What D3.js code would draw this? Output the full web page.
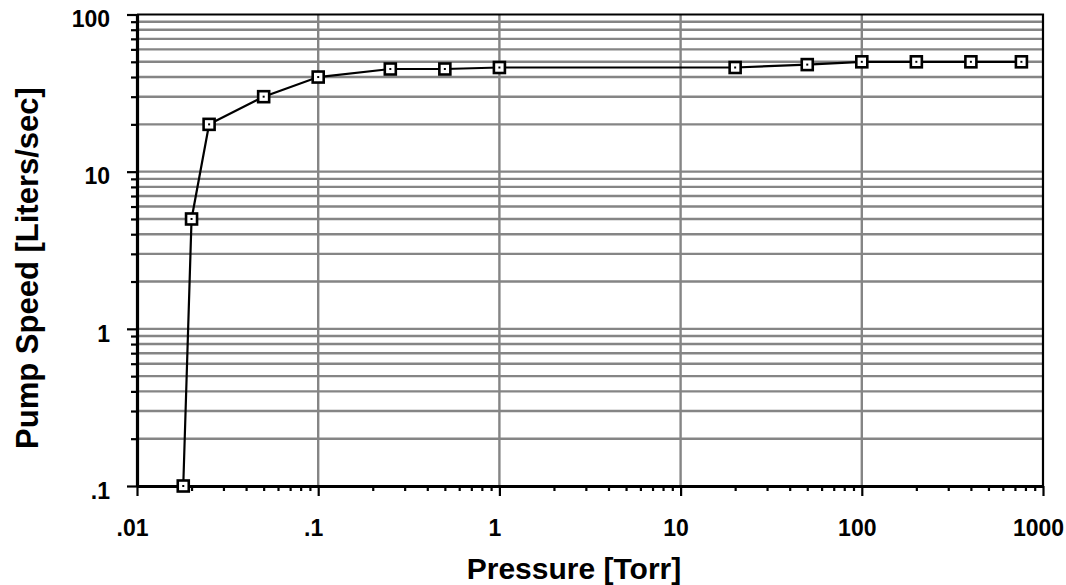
<!DOCTYPE html>
<html>
<head>
<meta charset="utf-8">
<script src="https://cdn.jsdelivr.net/npm/d3@7"></script>
<style>
  html, body { margin: 0; padding: 0; background: #fff; }
  svg { display: block; }
  text { font-family: "Liberation Sans", Arial, Helvetica, sans-serif; font-weight: bold; fill: #000; }
</style>
</head>
<body>
<svg id="chart" width="1066" height="585"></svg>
<script>
// ---- data ----
const pressureTorr = [0.018, 0.02, 0.025, 0.05, 0.1, 0.25, 0.5, 1, 20, 50, 100, 200, 400, 760];
const pumpSpeed    = [0.1,   5,    20,    30,   40,  45,   45,  46, 46, 48, 50,  50,  50,  50];
const xMajorTicks = [0.01, 0.1, 1, 10, 100, 1000];
const xTickLabels = [".01", ".1", "1", "10", "100", "1000"];
const yMajorTicks = [0.1, 1, 10, 100];
const yTickLabels = [".1", "1", "10", "100"];
const xTitle = "Pressure [Torr]";
const yTitle = "Pump Speed [Liters/sec]";

(function () {
const svg = d3.select("#chart");
const pl = 137, pr = 1043, pt = 14.5, pb = 486;

const x = d3.scaleLog().domain([0.01, 1000]).range([pl, pr]);
const y = d3.scaleLog().domain([0.1, 100]).range([pb, pt]);

const allY = y.ticks();
const allX = x.ticks();
const isMajor = (arr, v) => arr.some(m => Math.abs(m - v) / m < 1e-9);
const yMinor = allY.filter(v => !isMajor(yMajorTicks, v));
const xMinor = allX.filter(v => !isMajor(xMajorTicks, v));

// grid
const grid = svg.append("g").attr("stroke", "#858585").attr("stroke-width", 2.4);
grid.selectAll("line.h").data(allY.filter(v => v > 0.1 && v < 100)).join("line")
  .attr("class", "h")
  .attr("x1", pl).attr("x2", pr)
  .attr("y1", d => y(d)).attr("y2", d => y(d));
grid.selectAll("line.v").data(xMajorTicks.slice(1, -1)).join("line")
  .attr("class", "v")
  .attr("y1", pt).attr("y2", pb)
  .attr("x1", d => x(d)).attr("x2", d => x(d));

// frame (top & right)
svg.append("path")
  .attr("d", `M${pl},${pt}H${pr}V${pb}`)
  .attr("fill", "none").attr("stroke", "#000").attr("stroke-width", 2.2);

const fmtX = d => xTickLabels[xMajorTicks.indexOf(d)];
const fmtY = d => yTickLabels[yMajorTicks.indexOf(d)];

function styleAxis(g) {
  g.select(".domain").attr("stroke", "#000").attr("stroke-width", 3.2);
  g.selectAll(".tick line").attr("stroke", "#000").attr("stroke-width", 2.2);
}
function styleText(g) {
  g.selectAll(".tick text")
    .attr("font-size", 23).attr("font-family", '"Liberation Sans", Arial, sans-serif')
    .attr("font-weight", "bold").attr("fill", "#000");
}

// y minor ticks
svg.append("g").attr("transform", `translate(${pl},0)`)
  .call(d3.axisLeft(y).tickValues(yMinor).tickSize(6).tickFormat(""))
  .call(g => { styleAxis(g); g.select(".domain").remove(); });
// y major
svg.append("g").attr("transform", `translate(${pl},0)`)
  .call(d3.axisLeft(y).tickValues(yMajorTicks).tickSize(10).tickSizeOuter(0).tickPadding(17).tickFormat(fmtY))
  .call(styleAxis)
  .call(styleText)
  .call(g => g.selectAll(".tick text").attr("dy", "0.36em").attr("y", 4));

// x minor ticks
svg.append("g").attr("transform", `translate(0,${pb})`)
  .call(d3.axisBottom(x).tickValues(xMinor).tickSize(5).tickFormat(""))
  .call(g => { styleAxis(g); g.select(".domain").remove(); });
// x major
svg.append("g").attr("transform", `translate(0,${pb})`)
  .call(d3.axisBottom(x).tickValues(xMajorTicks).tickSize(10).tickSizeOuter(0).tickPadding(24).tickFormat(fmtX))
  .call(styleAxis)
  .call(styleText)
  .call(g => g.selectAll(".tick text").attr("dx", -5));

// titles
svg.append("text")
  .attr("x", 574).attr("y", 579)
  .attr("text-anchor", "middle").attr("font-size", 30)
  .text(xTitle);
svg.append("text")
  .attr("transform", "translate(38,268) rotate(-90)")
  .attr("text-anchor", "middle").attr("font-size", 31)
  .text(yTitle);

// data line
const pts = pressureTorr.map((p, i) => [p, pumpSpeed[i]]);
svg.append("path")
  .datum(pts)
  .attr("fill", "none").attr("stroke", "#000").attr("stroke-width", 2.2)
  .attr("d", d3.line().x(d => x(d[0])).y(d => y(d[1])));

// markers
const mk = svg.append("g");
mk.selectAll("rect").data(pts).join("rect")
  .attr("x", d => x(d[0]) - 5.5).attr("y", d => y(d[1]) - 5.5)
  .attr("width", 11).attr("height", 11)
  .attr("fill", "#fff").attr("stroke", "#000").attr("stroke-width", 2.6);
mk.selectAll("rect.dot").data(pts).join("rect")
  .attr("class", "dot")
  .attr("x", d => x(d[0]) - 1).attr("y", d => y(d[1]) - 1)
  .attr("width", 2).attr("height", 2)
  .attr("fill", "#000");
})();
</script>
</body>
</html>
